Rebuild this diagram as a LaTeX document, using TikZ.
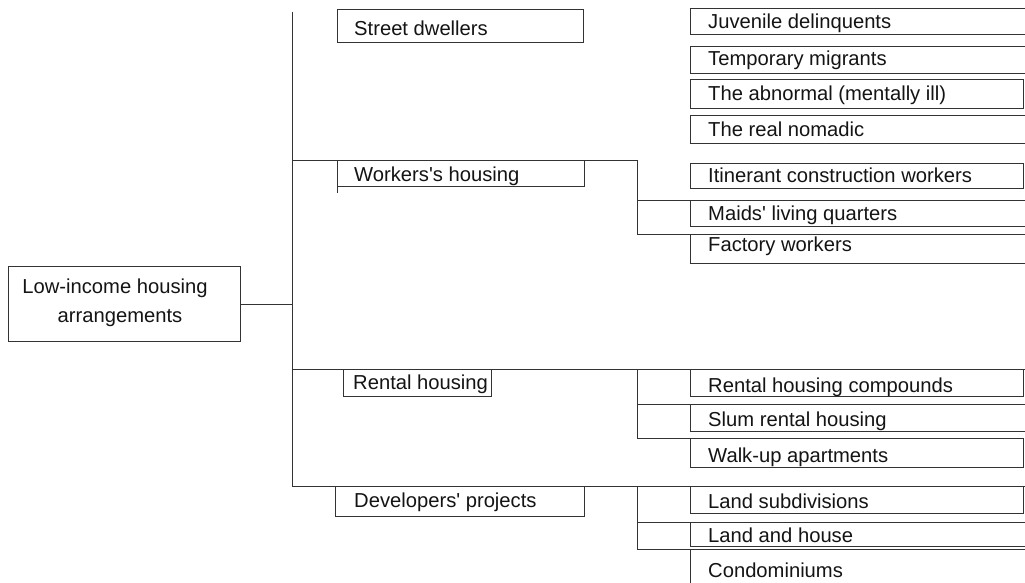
\documentclass[tikz,border=0pt]{standalone}
\usepackage{fontspec}
\newfontfamily\lsans{Liberation Sans}
\usetikzlibrary{calc}
\begin{document}
\begin{tikzpicture}[x=1pt,y=-1pt,
  boxx/.style={draw=black!80, line width=1pt, anchor=north west, inner sep=0pt},
  lbl/.style={anchor=base west, inner sep=0pt, font=\lsans\fontsize{20.2}{29}\selectfont, text=black!92},
  lblc/.style={anchor=base, inner sep=0pt, font=\lsans\fontsize{20.2}{29}\selectfont, text=black!92},
  conn/.style={draw=black!80, line width=1pt}]
\clip (0,0) rectangle (1025,582);
\fill[white] (0,0) rectangle (1025,582);
% main box
\node[boxx, minimum width=232, minimum height=75] (main) at (8,266) {};
\node[lblc] (mainA) at (115,293) {Low-income housing};
\node[lblc] (mainB) at (120,322) {arrangements};
% second level
\node[boxx, minimum width=246, minimum height=33] (sd) at (337,9) {};
\node[lbl] (sdt) at (354,35) {Street dwellers};
\node[boxx, minimum width=247, minimum height=26] (wh) at (337,160) {};
\node[lbl] (wht) at (354,181) {Workers's housing};
\node[boxx, minimum width=148, minimum height=27] (rh) at (343,369) {};
\node[lbl] (rht) at (353,389) {Rental housing};
\node[boxx, minimum width=249, minimum height=30] (dp) at (335,486) {};
\node[lbl] (dpt) at (354,507) {Developers' projects};
% third level
\node[boxx, minimum width=340, minimum height=26] (r1) at (690,8) {};
\node[lbl] (r1t) at (708,28) {Juvenile delinquents};
\node[boxx, minimum width=340, minimum height=27] (r2) at (690,46) {};
\node[lbl] (r2t) at (708,65) {Temporary migrants};
\node[boxx, minimum width=333, minimum height=29] (r3) at (690,79) {};
\node[lbl] (r3t) at (708,100) {The abnormal (mentally ill)};
\node[boxx, minimum width=340, minimum height=28] (r4) at (690,115) {};
\node[lbl] (r4t) at (708,136) {The real nomadic};
\node[boxx, minimum width=333, minimum height=25] (r5) at (690,163) {};
\node[lbl] (r5t) at (708,182) {Itinerant construction workers};
\node[boxx, minimum width=340, minimum height=26] (r6) at (690,200) {};
\node[lbl] (r6t) at (708,220) {Maids' living quarters};
\node[boxx, minimum width=340, minimum height=29] (r7) at (690,234) {};
\node[lbl] (r7t) at (708,251) {Factory workers};
\node[boxx, minimum width=333, minimum height=27] (r8) at (690,369) {};
\node[lbl] (r8t) at (708,392) {Rental housing compounds};
\node[boxx, minimum width=340, minimum height=27] (r9) at (690,404) {};
\node[lbl] (r9t) at (708,426) {Slum rental housing};
\node[boxx, minimum width=333, minimum height=29] (r10) at (690,438) {};
\node[lbl] (r10t) at (708,462) {Walk-up apartments};
\node[boxx, minimum width=333, minimum height=27] (r11) at (690,486) {};
\node[lbl] (r11t) at (708,508) {Land subdivisions};
\node[boxx, minimum width=340, minimum height=24] (r12) at (690,522) {};
\node[lbl] (r12t) at (708,542) {Land and house};
\node[boxx, minimum width=340, minimum height=60] (r13) at (690,549) {};
\node[lbl] (r13t) at (708,577) {Condominiums};
% connectors
\coordinate (ttop) at (292,12);
\coordinate (tw) at (292,160);
\coordinate (tr) at (292,369);
\coordinate (td) at (292,486);
\coordinate (bw) at (637,160);
\coordinate (br) at (637,369);
\coordinate (bd) at (637,486);
\coordinate (redge) at (1030,369);
\coordinate (dedge) at (1030,486);
\draw[conn] (main.east) -- (main.east -| ttop);
\draw[conn] (ttop) -- (td);
\draw[conn] (tw) -- (bw) -- (bw |- r7.north west) -- (r7.north west);
\draw[conn] (bw |- r6.north west) -- (r6.north west);
\draw[conn] (wh.south west) -- ++(0,6);
\draw[conn] (tr) -- (redge);
\draw[conn] (br) -- (br |- r10.north west) -- (r10.north west);
\draw[conn] (br |- r9.north west) -- (r9.north west);
\draw[conn] (td) -- (dedge);
\draw[conn] (bd) -- (bd |- r13.north west) -- (r13.north west);
\draw[conn] (bd |- r12.north west) -- (r12.north west);
\end{tikzpicture}
\end{document}
